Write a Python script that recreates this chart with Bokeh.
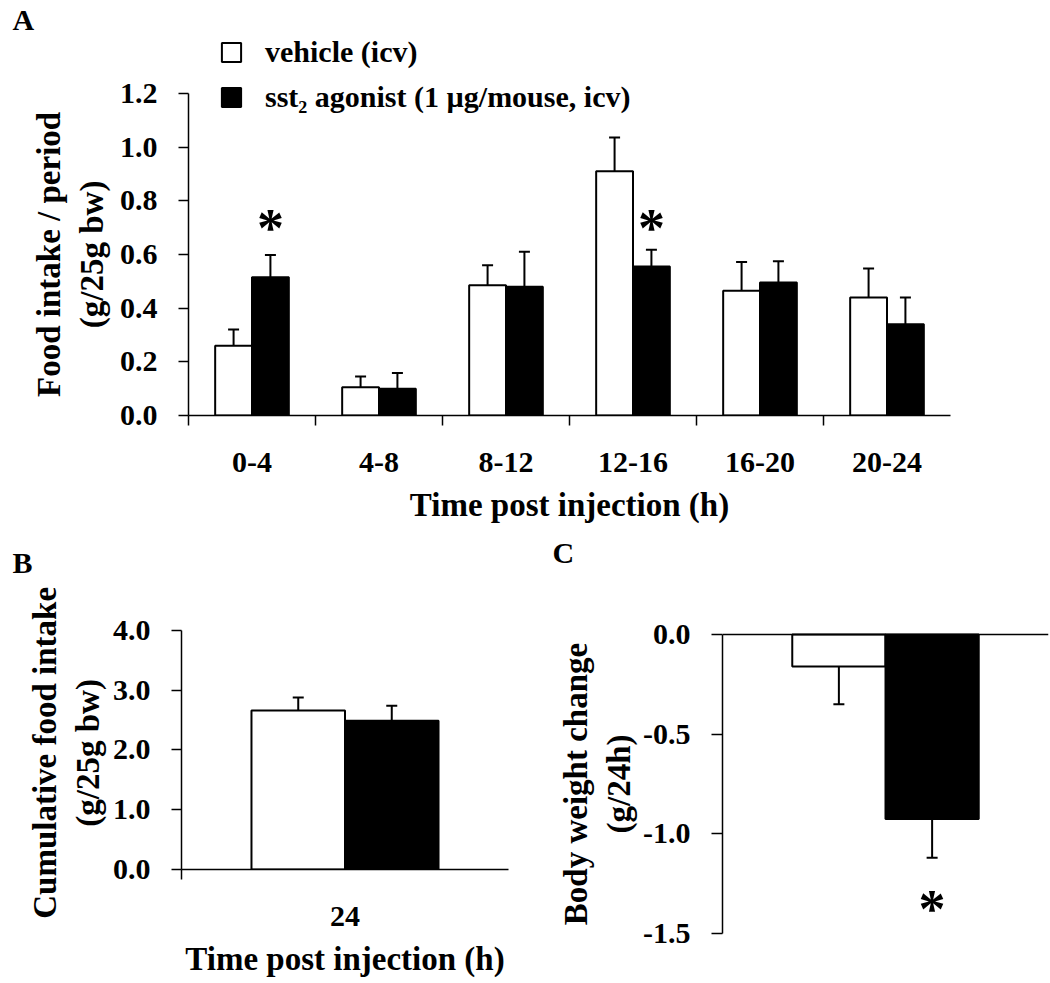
from bokeh.plotting import figure
from bokeh.models import (Range1d, FixedTicker, ColumnDataSource, Whisker, TeeHead,
                          Legend, LegendItem, Span, Title, NumeralTickFormatter)
from bokeh.layouts import column, row
from bokeh.embed import file_html
from bokeh.resources import INLINE
from bokeh.core.properties import value

# ---------------- data ----------------
periods = ["0-4", "4-8", "8-12", "12-16", "16-20", "20-24"]
vehicle_A = [0.26, 0.105, 0.485, 0.91, 0.465, 0.44]
vehicle_A_err = [0.06, 0.04, 0.075, 0.126, 0.107, 0.108]
agonist_A = [0.515, 0.10, 0.48, 0.555, 0.495, 0.34]
agonist_A_err = [0.083, 0.058, 0.13, 0.062, 0.08, 0.10]
star_A_idx = [0, 3]
star_A_y = [0.735, 0.735]

cum_label = ["24"]
vehicle_B = [2.66]
vehicle_B_err = [0.22]
agonist_B = [2.49]
agonist_B_err = [0.25]

vehicle_C = [-0.16]
vehicle_C_err = [0.19]
agonist_C = [-0.925]
agonist_C_err = [0.195]
star_C_y = [-1.325]

A_yticks = [0.0, 0.2, 0.4, 0.6, 0.8, 1.0, 1.2]
B_yticks = [0.0, 1.0, 2.0, 3.0, 4.0]
C_yticks = [-1.5, -1.0, -0.5, 0.0]

legend_labels = ["vehicle (icv)", "sst\u2082 agonist (1 \u00b5g/mouse, icv)"]

# ---------------- style ----------------
FONT = "Liberation Serif"
TICK_FS = "30px"
TITLE_FS = "33px"
LETTER_FS = "30px"
BAR_W = 0.29
LW = 2
NB = "\u00a0"   # padding that centres the y titles on the drawn part of the axis


def style_axes(p):
    for ax in p.axis:
        ax.axis_line_width = 1.5
        ax.axis_line_color = "black"
        ax.major_tick_line_color = "black"
        ax.major_tick_line_width = 1.5
        ax.minor_tick_line_color = "black"
        ax.minor_tick_line_width = 1.5
        ax.major_label_text_font = FONT
        ax.major_label_text_font_style = "bold"
        ax.major_label_text_font_size = TICK_FS
        ax.major_label_text_color = "black"
        ax.axis_label_text_font = FONT
        ax.axis_label_text_font_style = "bold"
        ax.axis_label_text_font_size = TITLE_FS
        ax.axis_label_text_color = "black"
    p.xgrid.visible = False
    p.ygrid.visible = False
    p.outline_line_color = None
    p.background_fill_color = "white"


def add_whiskers(p, xs, base_vals, errs, up=True):
    if up:
        lower = list(base_vals)
        upper = [v + e for v, e in zip(base_vals, errs)]
    else:
        upper = list(base_vals)
        lower = [v - e for v, e in zip(base_vals, errs)]
    src = ColumnDataSource(dict(x=xs, lower=lower, upper=upper))
    head = TeeHead(size=11, line_width=LW, line_color="black")
    if up:
        w = Whisker(base="x", lower="lower", upper="upper", source=src,
                    upper_head=head, lower_head=None,
                    line_width=LW, line_color="black", level="overlay")
    else:
        w = Whisker(base="x", lower="lower", upper="upper", source=src,
                    lower_head=head, upper_head=None,
                    line_width=LW, line_color="black", level="overlay")
    p.add_layout(w)


def letter(p, text, offset, standoff=0):
    p.add_layout(Title(text=text, align="left", offset=offset, standoff=standoff,
                       vertical_align="bottom",
                       text_font=FONT, text_font_style="bold",
                       text_font_size=LETTER_FS, text_color="black"), "above")


def ylabel(lines, pad):
    return "\n".join(line + NB * pad for line in lines)


# ---------------- Panel A ----------------
n = len(periods)
centers = [i + 0.5 for i in range(n)]
xv = [c - BAR_W / 2 for c in centers]
xa = [c + BAR_W / 2 for c in centers]

pA = figure(width=1050, height=528, x_range=Range1d(0, n), y_range=Range1d(0, 1.4155),
            output_backend="svg", toolbar_location=None,
            min_border_left=188, min_border_right=100, min_border_top=34, min_border_bottom=113)
rv = pA.vbar(x=xv, top=vehicle_A, bottom=0, width=BAR_W, fill_color="white",
             line_color="black", line_width=LW)
ra = pA.vbar(x=xa, top=agonist_A, bottom=0, width=BAR_W, fill_color="black",
             line_color="black", line_width=LW)
add_whiskers(pA, xv, vehicle_A, vehicle_A_err)
add_whiskers(pA, xa, agonist_A, agonist_A_err)
pA.text(x=[xa[i] for i in star_A_idx], y=star_A_y, text=["*"] * len(star_A_idx),
        text_font=value(FONT), text_font_style="bold", text_font_size="54px",
        text_align="center", text_baseline="middle", y_offset=10, text_color="black")

pA.xaxis.ticker = FixedTicker(ticks=centers, minor_ticks=list(range(n)))
pA.xaxis.major_label_overrides = {c: lab for c, lab in zip(centers, periods)}
pA.xaxis.major_tick_out = 0
pA.xaxis.major_tick_in = 0
pA.xaxis.minor_tick_out = 10
pA.xaxis.minor_tick_in = 0
pA.xaxis.major_label_standoff = 27
pA.xaxis.axis_label = "Time post injection (h)"
pA.xaxis.axis_label_standoff = 12
pA.yaxis.ticker = FixedTicker(ticks=A_yticks)
pA.yaxis.bounds = (0, 1.2)
pA.yaxis.formatter = NumeralTickFormatter(format="0.0")
pA.yaxis.major_tick_out = 10
pA.yaxis.major_tick_in = 0
pA.yaxis.minor_tick_out = 0
pA.yaxis.minor_tick_in = 0
pA.yaxis.major_label_standoff = 21
pA.yaxis.axis_label = ylabel(["Food intake / period", "(g/25g bw)"], 7)
pA.yaxis.axis_label_standoff = 7
style_axes(pA)

legend = Legend(items=[LegendItem(label=legend_labels[0], renderers=[rv]),
                       LegendItem(label=legend_labels[1], renderers=[ra])],
                location=(31, 301), orientation="vertical",
                border_line_color=None, background_fill_alpha=0,
                padding=0, margin=0, spacing=11, glyph_width=24, glyph_height=24,
                label_height=30, label_standoff=22,
                label_text_font=FONT, label_text_font_style="bold",
                label_text_font_size="30px", label_text_color="black")
pA.add_layout(legend, "center")
letter(pA, "A", -176)

# ---------------- Panel B ----------------
pB = figure(width=540, height=455, x_range=Range1d(0, 1), y_range=Range1d(0, 4.87),
            output_backend="svg", toolbar_location=None,
            min_border_left=181, min_border_right=32, min_border_top=50, min_border_bottom=114)
bv = pB.vbar(x=[0.5 - 0.143], top=vehicle_B, bottom=0, width=0.286, fill_color="white",
             line_color="black", line_width=LW)
ba = pB.vbar(x=[0.5 + 0.143], top=agonist_B, bottom=0, width=0.286, fill_color="black",
             line_color="black", line_width=LW)
add_whiskers(pB, [0.5 - 0.143], vehicle_B, vehicle_B_err)
add_whiskers(pB, [0.5 + 0.143], agonist_B, agonist_B_err)
pB.xaxis.ticker = FixedTicker(ticks=[0.5], minor_ticks=[0.0])
pB.xaxis.major_label_overrides = {0.5: cum_label[0]}
pB.xaxis.major_tick_out = 0
pB.xaxis.major_tick_in = 0
pB.xaxis.minor_tick_out = 10
pB.xaxis.minor_tick_in = 0
pB.xaxis.major_label_standoff = 27
pB.xaxis.axis_label = "Time post injection (h)"
pB.xaxis.axis_label_standoff = 12
pB.yaxis.ticker = FixedTicker(ticks=B_yticks)
pB.yaxis.bounds = (0, 4)
pB.yaxis.formatter = NumeralTickFormatter(format="0.0")
pB.yaxis.major_tick_out = 10
pB.yaxis.major_tick_in = 0
pB.yaxis.major_label_standoff = 21
pB.yaxis.axis_label = ylabel(["Cumulative food intake", "(g/25g bw)"], 7)
pB.yaxis.axis_label_standoff = 4
style_axes(pB)
letter(pB, "B", -169)

# ---------------- Panel C ----------------
pC = figure(width=510, height=455, x_range=Range1d(0, 1), y_range=Range1d(-1.5, 0.331),
            output_backend="svg", toolbar_location=None, x_axis_location=None,
            min_border_left=182, min_border_right=2, min_border_top=40, min_border_bottom=50)
cv = pC.vbar(x=[0.5 - 0.143], top=0, bottom=vehicle_C, width=0.286, fill_color="white",
             line_color="black", line_width=LW)
ca = pC.vbar(x=[0.5 + 0.143], top=0, bottom=agonist_C, width=0.286, fill_color="black",
             line_color="black", line_width=LW)
add_whiskers(pC, [0.5 - 0.143], vehicle_C, vehicle_C_err, up=False)
add_whiskers(pC, [0.5 + 0.143], agonist_C, agonist_C_err, up=False)
pC.add_layout(Span(location=0, dimension="width", line_color="black", line_width=1.5))
pC.text(x=[0.5 + 0.143], y=star_C_y, text=["*"],
        text_font=value(FONT), text_font_style="bold", text_font_size="54px",
        text_align="center", text_baseline="middle", y_offset=10, text_color="black")
pC.yaxis.ticker = FixedTicker(ticks=C_yticks)
pC.yaxis.bounds = (-1.5, 0)
pC.yaxis.formatter = NumeralTickFormatter(format="0.0")
pC.yaxis.major_tick_out = 11
pC.yaxis.major_tick_in = 0
pC.yaxis.major_label_standoff = 21
pC.yaxis.axis_label = ylabel(["Body weight change", "(g/24h)"], 8)
pC.yaxis.axis_label_standoff = 3
style_axes(pC)
letter(pC, "C", -170)

layout = column(pA, row(column(pB), column(pC)))
open("out.html", "w").write(file_html(layout, INLINE))
